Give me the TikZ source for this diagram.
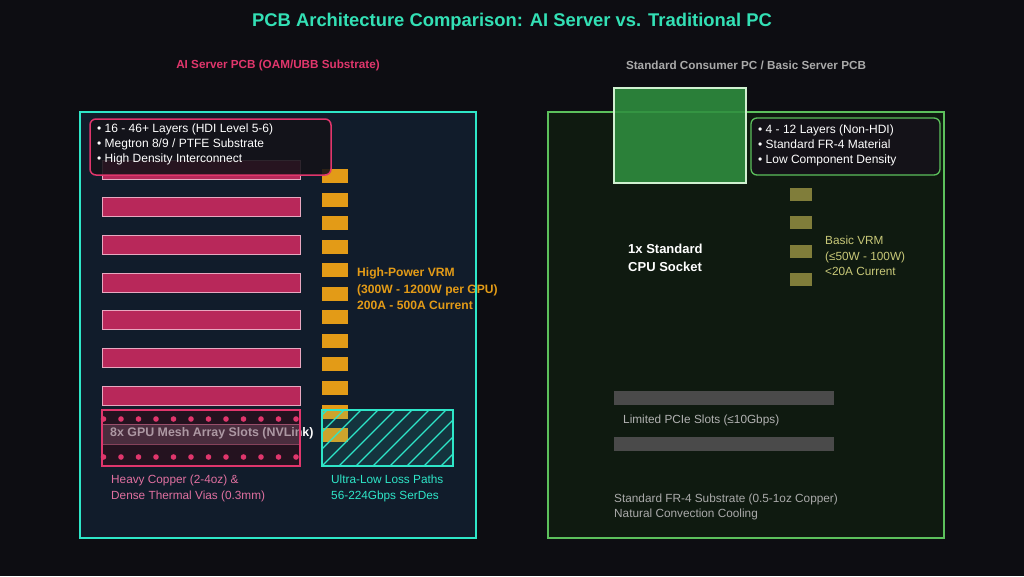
\documentclass[tikz,border=0pt]{standalone}
\usepackage{fontspec}
\setmainfont{Liberation Sans}
\definecolor{bgdark}{HTML}{0D0D12}
\definecolor{titleteal}{HTML}{33E0B5}
\definecolor{aiteal}{HTML}{2EE6C8}
\definecolor{aifill}{HTML}{111C2B}
\definecolor{aipink}{HTML}{E0366C}
\definecolor{barpink}{HTML}{B8285A}
\definecolor{barrim}{HTML}{E8A8C0}
\definecolor{notepink}{HTML}{E070A0}
\definecolor{vrmorange}{HTML}{E39B17}
\definecolor{meshdark}{HTML}{24121F}
\definecolor{bandmauve}{HTML}{6A4458}
\definecolor{boxdark}{HTML}{141218}
\definecolor{pcgreen}{HTML}{5CC05C}
\definecolor{pcfill}{HTML}{0F1A10}
\definecolor{socketgreen}{HTML}{2F8F3F}
\definecolor{socketrim}{HTML}{D0F0D0}
\definecolor{olivepad}{HTML}{807D3A}
\definecolor{olivetext}{HTML}{C8C878}
\definecolor{slotgray}{HTML}{4A4A4A}
\definecolor{softgray}{HTML}{AAAAAA}
\tikzset{
  info/.style={text=white, font=\fontsize{12}{15}\selectfont, align=left, anchor=west, inner sep=0pt},
  note/.style={font=\fontsize{11.8}{15.5}\selectfont, align=left, anchor=west, inner sep=0pt},
  heading/.style={font=\bfseries\fontsize{11.7}{13}\selectfont, inner sep=0pt},
  layerbar/.style={fill=barpink, draw=barrim, line width=0.8pt},
  aipad/.style={fill=vrmorange},
  pcpad/.style={fill=olivepad},
}
\begin{document}
\begin{tikzpicture}[x=1pt,y=-1pt]
\fill[bgdark] (0,0) rectangle (1024,576);
\useasboundingbox (0,0) rectangle (1024,576);

\node[text=titleteal, font=\bfseries\fontsize{18.4}{21}\selectfont, inner sep=0pt] (title) at (512,22) {PCB Architecture Comparison: AI Server vs. Traditional PC};
\node[heading, text=aipink] (aiLabel) at (278,65) {AI Server PCB (OAM/UBB Substrate)};
\node[heading, text=softgray] (pcLabel) at (746,65) {Standard Consumer PC / Basic Server PCB};

% AI server board
\fill[aifill] (80,112) rectangle (476,538);
\foreach \i in {0,...,6}
  \draw[layerbar] (102,{160+37.7*\i}) rectangle (300,{179+37.7*\i});
\foreach \i in {0,...,11}
  \fill[aipad] (322,{169+23.55*\i}) rectangle (348,{183+23.55*\i});

\draw[aipink, line width=1.5pt, rounded corners=6pt, fill=boxdark, fill opacity=0.88] (90,119) rectangle (331,175);
\node[info] (aiSpecs) at (97,144) {• 16 - 46+ Layers (HDI Level 5-6)\\• Megtron 8/9 / PTFE Substrate\\• High Density Interconnect};

% mesh array
\fill[meshdark] (102,410) rectangle (300,466);
\foreach \i in {0,...,11} {
  \fill[aipink] ({103.5+17.5*\i},419) circle (2.8);
  \fill[aipink] ({103.5+17.5*\i},457) circle (2.8);
}
\node[text=white, font=\bfseries\fontsize{12.4}{14}\selectfont, anchor=west, inner sep=0pt] (meshLabel) at (110,433) {8x GPU Mesh Array Slots (NVLink)};
\draw[aipink!70!white, line width=0.6pt, fill=bandmauve, fill opacity=0.55, draw opacity=0.5] (102,424) rectangle (300,444);
\draw[aipink, line width=1.3pt] (102,410) rectangle (300,466);

% low loss paths
\fill[aiteal, opacity=0.12] (322,410) rectangle (453,466);
\begin{scope}
  \clip (322,410) rectangle (453,466);
  \foreach \i in {-4,...,8}
    \draw[aiteal, line width=1.2pt] ({322+17*\i},466) -- ++(56,-56);
\end{scope}
\draw[aiteal, line width=1.2pt] (322,410) rectangle (453,466);

\node[text=vrmorange, font=\bfseries\fontsize{12.1}{16.5}\selectfont, align=left, anchor=west, inner sep=0pt] (aiVrm) at (357,289) {High-Power VRM\\(300W - 1200W per GPU)\\200A - 500A Current};
\node[note, text=notepink] (copperNote) at (111,488.5) {Heavy Copper (2-4oz) \&\\Dense Thermal Vias (0.3mm)};
\node[note, text=aiteal] (serdesNote) at (331,488.5) {Ultra-Low Loss Paths\\56-224Gbps SerDes};

\draw[aiteal, line width=2.5pt] (80,112) rectangle (476,538);

% standard PC board
\draw[pcgreen, line width=1.5pt, fill=pcfill] (548,112) rectangle (944,538);
\draw[socketrim, line width=1.5pt, fill=socketgreen, fill opacity=0.88] (614,88) rectangle (746,183);

\draw[pcgreen, line width=1.3pt, rounded corners=6pt, fill=boxdark] (751,118) rectangle (940,175);
\node[info] (pcSpecs) at (758,145) {• 4 - 12 Layers (Non-HDI)\\• Standard FR-4 Material\\• Low Component Density};

\node[text=white, font=\bfseries\fontsize{13}{18}\selectfont, align=left, anchor=west, inner sep=0pt] (cpuLabel) at (628,258) {1x Standard\\CPU Socket};

\foreach \i in {0,...,3}
  \fill[pcpad] (790,{188+28.3*\i}) rectangle (812,{201+28.3*\i});
\node[note, text=olivetext] (pcVrm) at (825,256) {Basic VRM\\(≤50W - 100W)\\<20A Current};

\fill[slotgray] (614,391) rectangle (834,405);
\fill[slotgray] (614,437) rectangle (834,451);
\node[note, text=softgray!90!white] (pcieLabel) at (623,420) {Limited PCIe Slots (≤10Gbps)};
\node[note, text=softgray] (fr4Note) at (614,507) {Standard FR-4 Substrate (0.5-1oz Copper)\\Natural Convection Cooling};
\end{tikzpicture}
\end{document}
